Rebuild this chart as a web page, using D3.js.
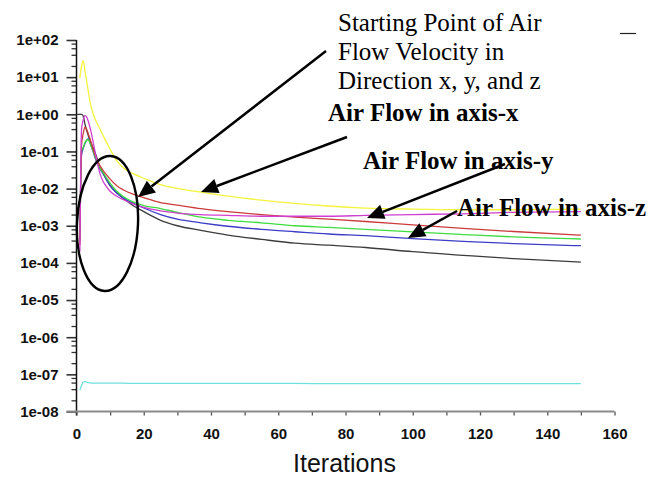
<!DOCTYPE html>
<html>
<head>
<meta charset="utf-8">
<script src="https://cdn.jsdelivr.net/npm/d3@7"></script>
<style>
  html, body { margin: 0; padding: 0; background: #fff; }
  svg { display: block; }
</style>
</head>
<body>
<div id="chart"></div>
<script>
// iteration grid shared by all residual curves
const iterations = [0, 1, 1.5, 2, 2.5, 3, 3.5, 4, 5, 6, 7, 8, 9, 10, 12, 14, 17, 20, 25, 30, 37, 45, 55, 65, 75, 86, 100, 115, 130, 150];

const cyanVals    = [null, 3.8e-8, 5e-8, 6.2e-8, 6.4e-8, 6.2e-8, 6.0e-8, 5.9e-8, 5.8e-8, 5.8e-8, 5.8e-8, 5.8e-8, 5.8e-8, 5.8e-8, 5.8e-8, 5.8e-8, 5.7e-8, 5.7e-8, 5.7e-8, 5.7e-8, 5.7e-8, 5.7e-8, 5.7e-8, 5.7e-8, 5.6e-8, 5.6e-8, 5.6e-8, 5.6e-8, 5.6e-8, 5.6e-8];
const blackVals   = [1.0, 1.0, 1.0, 0.9, 0.55, 0.37, 0.27, 0.2, 0.12, 0.07, 0.038, 0.025, 0.017, 0.012, 0.0078, 0.0054, 0.0034, 0.0024, 0.0014, 0.001, 0.00075, 0.00056, 0.00043, 0.00034, 0.0003, 0.00026, 0.0002, 0.00016, 0.00013, 0.000105];
const blueVals    = [null, 4e-4, 0.08, 0.12, 0.16, 0.2, 0.22, 0.17, 0.095, 0.052, 0.034, 0.024, 0.017, 0.012, 0.0075, 0.0055, 0.004, 0.003, 0.002, 0.0015, 0.0012, 0.00097, 0.0008, 0.00069, 0.0006, 0.00054, 0.00045, 0.00038, 0.00033, 0.00029];
const greenVals   = [null, 5e-4, 0.1, 0.13, 0.17, 0.2, 0.21, 0.17, 0.1, 0.056, 0.036, 0.026, 0.019, 0.014, 0.0085, 0.006, 0.0043, 0.0035, 0.0029, 0.0023, 0.0017, 0.0014, 0.0012, 0.001, 0.0009, 0.0008, 0.00068, 0.00058, 0.0005, 0.00044];
const redVals     = [null, 3e-4, 0.15, 0.3, 0.45, 0.4, 0.3, 0.22, 0.11, 0.062, 0.041, 0.03, 0.023, 0.018, 0.012, 0.0092, 0.007, 0.0057, 0.0042, 0.0036, 0.0029, 0.0024, 0.002, 0.0017, 0.0015, 0.0013, 0.00105, 0.00085, 0.0007, 0.00056];
const magentaVals = [null, 2e-4, 0.4, 0.7, 0.92, 0.85, 0.65, 0.45, 0.17, 0.06, 0.025, 0.015, 0.011, 0.0085, 0.0062, 0.005, 0.0038, 0.0031, 0.0025, 0.0022, 0.002, 0.0019, 0.0018, 0.0018, 0.0018, 0.0019, 0.002, 0.0021, 0.0023, 0.0024];
const yellowVals  = [null, 9.5, 20, 28, 15, 8, 4.2, 2.2, 1.0, 0.6, 0.4, 0.26, 0.17, 0.115, 0.056, 0.036, 0.025, 0.019, 0.0128, 0.0102, 0.008, 0.0063, 0.0049, 0.004, 0.0034, 0.003, 0.0028, 0.0027, 0.0027, 0.0028];

const seriesNames  = ["cyan", "black", "blue", "green", "red", "magenta", "yellow"];
const seriesValues = [cyanVals, blackVals, blueVals, greenVals, redVals, magentaVals, yellowVals];
const seriesColors = ["#6fe0de", "#3c3c3c", "#3d3dc8", "#3fdc3f", "#cc3b3b", "#cf3fcf", "#f4f43c"];

const xTicks = [0, 20, 40, 60, 80, 100, 120, 140, 160];
const yTickLabels = ["1e+02", "1e+01", "1e+00", "1e-01", "1e-02", "1e-03", "1e-04", "1e-05", "1e-06", "1e-07", "1e-08"];

var width = 653, height = 477;

var x = d3.scaleLinear().domain([0, 160]).range([76.5, 614.5]);
var y = d3.scaleLog().domain([1e-8, 1e2]).range([411.5, 40]);

var svg = d3.select("#chart")
  .append("svg")
    .attr("width", width)
    .attr("height", height);

// ---- axes ----
var yMajor = yTickLabels.map(function(t) { return +t; });
var yMinor = [];
yMajor.slice(1).forEach(function(v) {
  [2, 4, 6, 8].forEach(function(m) { yMinor.push(v * m); });
});

svg.append("g")
  .attr("transform", "translate(" + x(0) + ",0)")
  .call(d3.axisLeft(y).tickValues(yMinor).tickSize(5).tickFormat(""))
  .call(function(g) { g.select(".domain").remove(); })
  .selectAll("line").attr("stroke", "#333").attr("stroke-width", 1.3);

svg.append("g")
  .attr("transform", "translate(" + x(0) + ",0)")
  .call(d3.axisLeft(y).tickValues(yMajor).tickSize(10).tickPadding(8)
    .tickFormat(function(d, i) { return yTickLabels[i]; }))
  .call(function(g) { g.select(".domain").remove(); })
  .call(function(g) {
    g.selectAll("line").attr("stroke", "#333").attr("stroke-width", 1.6);
    g.selectAll("text")
      .attr("font-family", "Liberation Sans, Arial, sans-serif")
      .attr("font-size", "15px")
      .attr("font-weight", "bold")
      .attr("fill", "#111");
  });

svg.append("line")
  .attr("x1", x(0)).attr("x2", x(0))
  .attr("y1", y(1e2)).attr("y2", y(1e-8) + 4)
  .attr("stroke", "#111").attr("stroke-width", 1.5);

// x axis: gray line with small ticks every 10
svg.append("g")
  .attr("transform", "translate(0," + y(1e-8) + ")")
  .call(d3.axisBottom(x).tickValues(d3.range(0, 161, 10)).tickSize(4).tickFormat(""))
  .call(function(g) {
    g.select(".domain").remove();
    g.selectAll("line").attr("stroke", "#555").attr("stroke-width", 1.3);
  });

svg.append("line")
  .attr("x1", x(0) - 10).attr("x2", x(160))
  .attr("y1", y(1e-8)).attr("y2", y(1e-8))
  .attr("stroke", "#8a8a8a").attr("stroke-width", 2.2);

svg.append("g")
  .attr("transform", "translate(0," + y(1e-8) + ")")
  .call(d3.axisBottom(x).tickValues(xTicks).tickSize(0).tickPadding(17))
  .call(function(g) {
    g.select(".domain").remove();
    g.selectAll("text")
      .attr("font-family", "Liberation Sans, Arial, sans-serif")
      .attr("font-size", "15px")
      .attr("font-weight", "bold")
      .attr("fill", "#111");
  });

svg.append("text")
  .attr("x", x(80) - 1)
  .attr("y", 472)
  .attr("text-anchor", "middle")
  .attr("font-family", "Liberation Sans, Arial, sans-serif")
  .attr("font-size", "25px")
  .attr("fill", "#111")
  .text("Iterations");

// ---- residual curves ----
var line = d3.line()
  .defined(function(d) { return d[1] != null; })
  .x(function(d) { return x(d[0]); })
  .y(function(d) { return y(d[1]); })
  .curve(d3.curveMonotoneX);

seriesValues.forEach(function(vals, i) {
  var pts = iterations.map(function(it, j) { return [it, vals[j]]; });
  svg.append("path")
    .datum(pts)
    .attr("class", "series " + seriesNames[i])
    .attr("fill", "none")
    .attr("stroke", seriesColors[i])
    .attr("stroke-width", 1.3)
    .attr("d", line);
});

// small dash at top right (left over from the original figure)
svg.append("line")
  .attr("x1", 620).attr("x2", 636)
  .attr("y1", 33.5).attr("y2", 33.5)
  .attr("stroke", "#222").attr("stroke-width", 1.2);

// ---- annotations ----
svg.append("ellipse")
  .attr("cx", 107.5).attr("cy", 223.5)
  .attr("rx", 30.5).attr("ry", 67.5)
  .attr("transform", "rotate(2.5,107.5,223.5)")
  .attr("fill", "none")
  .attr("stroke", "#000")
  .attr("stroke-width", 2.4);

var serif = "Liberation Serif, Times New Roman, serif";
var noteLines = ["Starting Point of Air", "Flow Velocity in", "Direction x, y, and z"];
svg.append("g").selectAll("text")
  .data(noteLines)
  .join("text")
    .attr("x", 338)
    .attr("y", function(d, i) { return 31 + i * 29; })
    .attr("font-family", serif)
    .attr("font-size", "25px")
    .attr("fill", "#000")
    .text(function(d) { return d; });

var labels = [
  { text: "Air Flow in axis-x", x: 328, y: 121 },
  { text: "Air Flow in axis-y", x: 363, y: 169 },
  { text: "Air Flow in axis-z", x: 457, y: 216 }
];
svg.append("g").selectAll("text")
  .data(labels)
  .join("text")
    .attr("x", function(d) { return d.x; })
    .attr("y", function(d) { return d.y; })
    .attr("font-family", serif)
    .attr("font-size", "25px")
    .attr("font-weight", "bold")
    .attr("fill", "#000")
    .text(function(d) { return d.text; });

var arrows = [
  { from: [326, 51], to: [138, 197] },
  { from: [347, 137], to: [201, 192] },
  { from: [505, 164], to: [367, 218] },
  { from: [457, 211], to: [408, 238] }
];

arrows.forEach(function(a) {
  var dx = a.to[0] - a.from[0], dy = a.to[1] - a.from[1];
  var len = Math.sqrt(dx * dx + dy * dy);
  var ux = dx / len, uy = dy / len;
  var headLen = 17, headW = 7.5;
  var bx = a.to[0] - ux * headLen, by = a.to[1] - uy * headLen;
  svg.append("line")
    .attr("x1", a.from[0]).attr("y1", a.from[1])
    .attr("x2", bx).attr("y2", by)
    .attr("stroke", "#000").attr("stroke-width", 2.5);
  svg.append("polygon")
    .attr("points", [
      [a.to[0], a.to[1]],
      [bx - uy * headW, by + ux * headW],
      [bx + uy * headW, by - ux * headW]
    ].map(function(p) { return p.join(","); }).join(" "))
    .attr("fill", "#000");
});
</script>
</body>
</html>
